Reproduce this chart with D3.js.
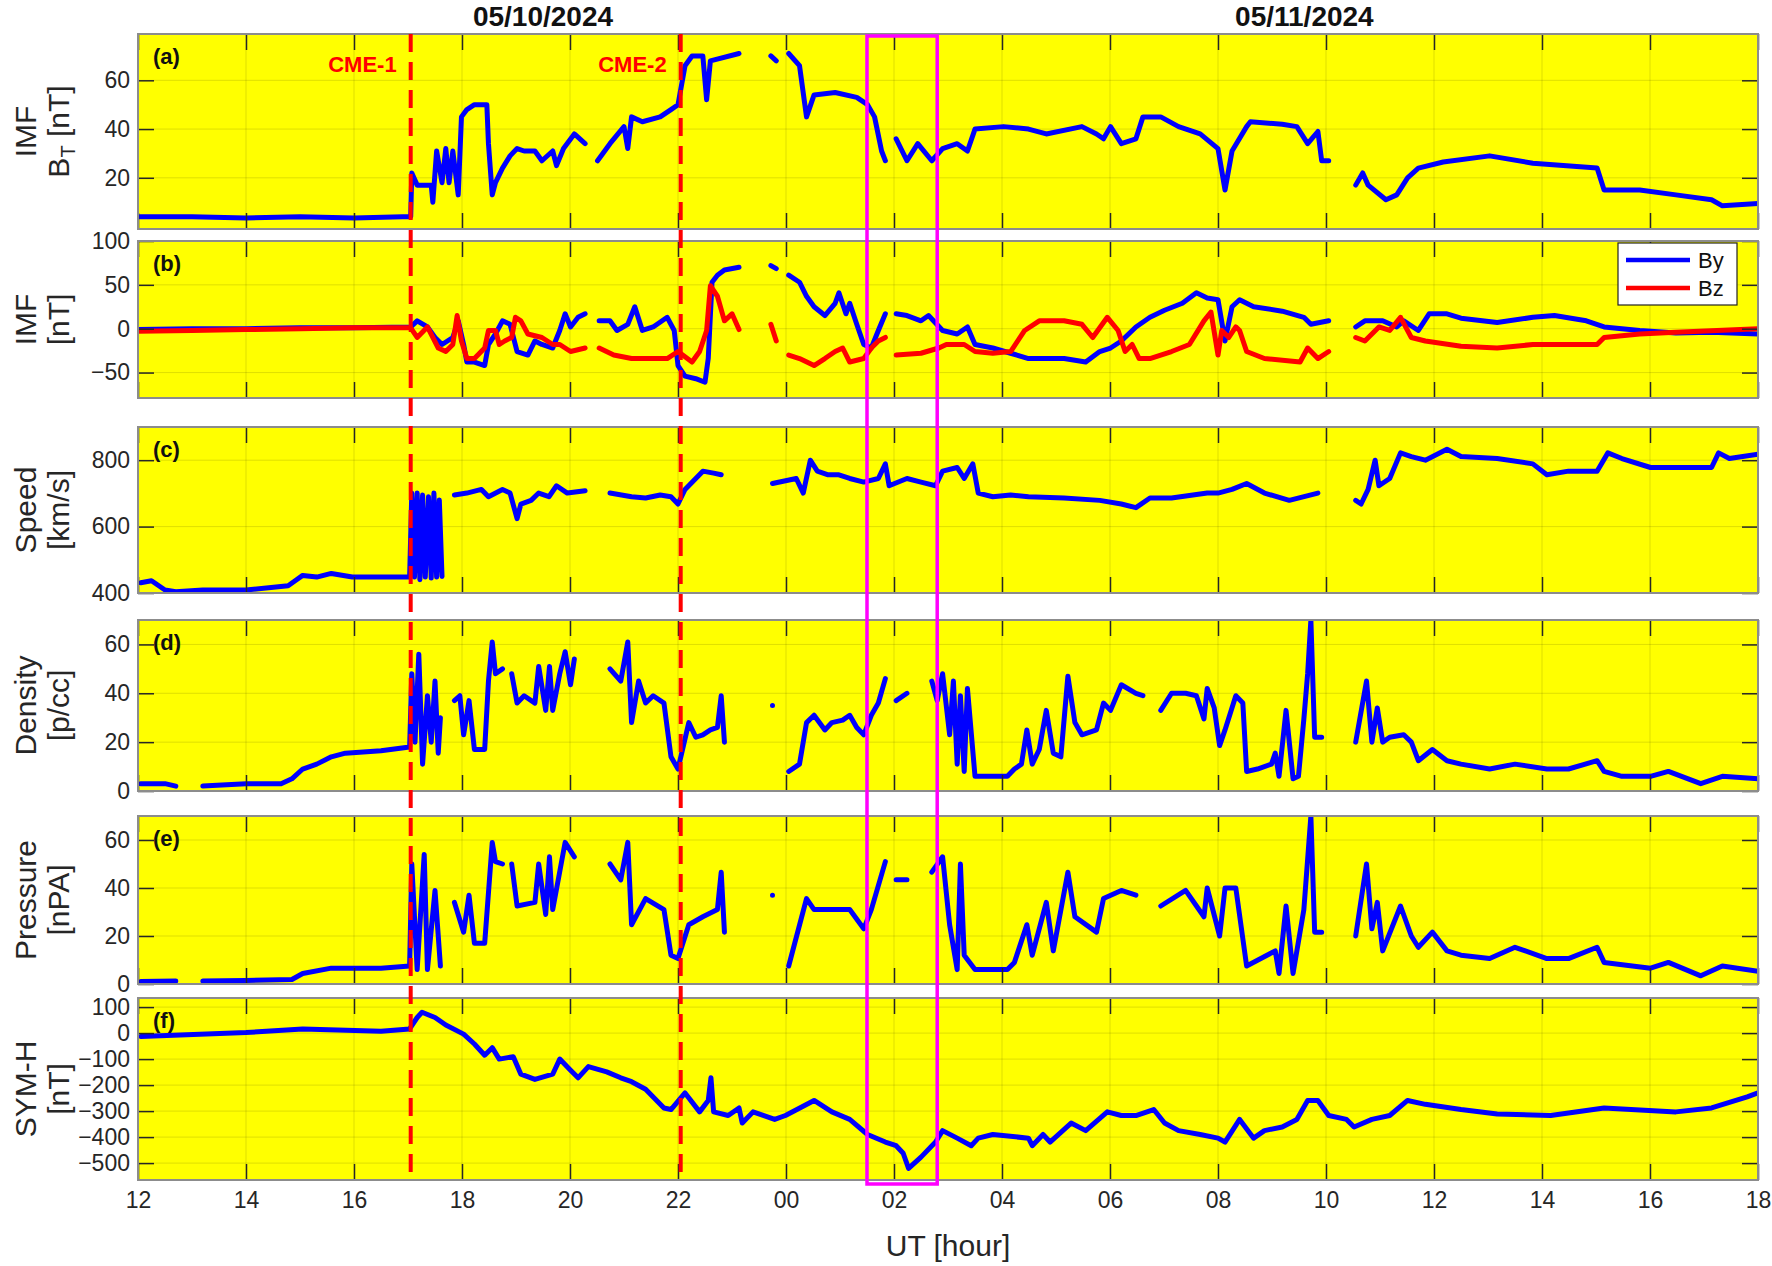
<!DOCTYPE html>
<html>
<head>
<meta charset="utf-8">
<script src="https://cdn.jsdelivr.net/npm/d3@7"></script>
<style>
  body { margin: 0; background: #fff; }
  text { font-family: "Liberation Sans Narrow", "Liberation Sans", Arial, sans-serif; }
</style>
</head>
<body>
<svg id="chart" width="1772" height="1266"></svg>
<script>
// hours counted from 00 UT on 05/10/2024 (12..42), null = data gap
const hourTicks = [12, 14, 16, 18, 20, 22, 24, 26, 28, 30, 32, 34, 36, 38, 40, 42];
const hourLabels = ["12","14","16","18","20","22","00","02","04","06","08","10","12","14","16","18"];
const cmeTimes = [17.05, 22.05];
const cmeLabels = ["CME-1", "CME-2"];
const boxTimes = [25.5, 26.8];

const bt = [[12,4],[13,4],[14,3.5],[15,4],[16,3.5],[16.9,4],[17.05,4],
  [17.07,22],[17.17,17],[17.43,17],[17.46,10],[17.53,31],[17.63,18],[17.7,32],[17.76,18],[17.83,31],[17.93,13],[17.99,45],
  [18.09,48],[18.23,50],[18.46,50],[18.49,34],[18.56,13],[18.62,18],[18.75,24],[18.89,29],[19.02,32],[19.15,31],[19.35,31],
  [19.48,27],[19.68,31],[19.75,25],[19.88,32],[20.08,38],[20.28,34],[20.33,null],[20.51,27],[20.74,34],[21.0,41],[21.07,32],
  [21.14,45],[21.34,43],[21.67,45],[21.87,48],[22.0,50],[22.13,66],[22.26,70],[22.46,70],[22.53,52],[22.6,68],[23.13,71],
  [23.2,null],[23.72,70],[23.82,68],[23.9,null],[24.05,71],[24.25,66],[24.38,45],[24.52,54],[24.91,55],[25.31,53],[25.51,50],
  [25.64,45],[25.77,31],[25.84,27],[25.9,null],[26.04,36],[26.24,27],[26.44,34],[26.7,27],[26.9,32],[27.17,34],[27.36,31],
  [27.5,40],[28.03,41],[28.49,40],[28.82,38],[29.48,41],[29.75,38],[29.88,36],[30.01,41],[30.21,34],[30.48,36],[30.61,45],
  [30.94,45],[31.27,41],[31.67,38],[32.0,32],[32.13,15],[32.26,31],[32.53,41],[32.6,43],[33.19,42],[33.46,41],[33.66,34],
  [33.85,39],[33.92,27],[34.05,27],[34.1,null],[34.55,17],[34.68,22],[34.78,17],[35.11,11],[35.31,13],[35.51,20],[35.71,24],
  [36.17,26.5],[37.03,29],[37.83,26],[39.02,24],[39.15,15],[39.81,15],[40.48,13],[41.14,11],[41.34,8.5],[42.0,9.5]];

const by = [[12,-1],[13,0],[14,0],[15,1],[16,1],[17.05,2],[17.17,9],[17.36,2],[17.5,-10],[17.63,-18],[17.83,-10],[17.93,9],
  [18.03,-18],[18.09,-38],[18.23,-38],[18.42,-42],[18.49,-18],[18.62,-6],[18.75,9],[18.89,5],[19.02,-26],[19.22,-30],
  [19.35,-14],[19.48,-18],[19.68,-22],[19.81,-2],[19.91,17],[20.01,2],[20.15,13],[20.28,17],[20.33,null],[20.54,9],[20.74,9],
  [20.87,-2],[21.07,5],[21.2,25],[21.34,-2],[21.54,2],[21.8,13],[21.93,-2],[22.0,-42],[22.13,-54],[22.33,-57],[22.5,-61],
  [22.56,-34],[22.63,53],[22.73,61],[22.86,67],[23.13,70],[23.2,null],[23.72,72],[23.82,68.5],[23.9,null],[24.05,61],
  [24.25,53],[24.38,37],[24.52,25],[24.72,15],[24.91,29],[24.98,41],[25.11,17],[25.18,29],[25.31,5],[25.44,-18],[25.58,-22],
  [25.71,-2],[25.84,17],[25.9,null],[26.04,17],[26.24,15],[26.5,9],[26.64,15],[26.9,-2],[27.17,-6],[27.36,2],[27.5,-18],
  [27.83,-22],[28.16,-28],[28.49,-34],[29.15,-34],[29.55,-38],[29.81,-26],[30.01,-22],[30.21,-14],[30.48,2],[30.74,13],
  [31.01,21],[31.34,29],[31.6,41],[31.8,35],[32.0,33],[32.13,-14],[32.26,25],[32.4,33],[32.66,25],[33.19,20],[33.59,13],
  [33.72,5],[34.05,9],[34.1,null],[34.55,2],[34.72,9],[35.05,9],[35.31,2],[35.44,9],[35.71,-2],[35.91,17],[36.24,17],
  [36.5,12],[37.17,7],[37.83,13],[38.23,15],[38.82,9],[39.15,2],[39.81,-2],[40.48,-5],[41.14,-4],[42.0,-6]];

const bz = [[12,-3],[13,-2],[14,-1],[15,0],[16,1],[17.05,1],[17.17,-10],[17.36,2],[17.56,-22],[17.7,-26],[17.83,-18],
  [17.91,15],[17.99,-14],[18.09,-34],[18.23,-34],[18.42,-22],[18.49,-2],[18.62,-2],[18.69,-18],[18.79,-14],[18.92,-10],
  [18.99,13],[19.09,9],[19.22,-6],[19.48,-10],[19.68,-18],[19.81,-18],[20.01,-26],[20.28,-22],[20.33,null],[20.54,-22],
  [20.81,-30],[21.14,-34],[21.47,-34],[21.8,-34],[22.0,-26],[22.26,-38],[22.4,-26],[22.53,-2],[22.6,49],[22.73,37],
  [22.86,9],[23.0,17],[23.13,-1],[23.2,null],[23.72,5],[23.82,-14],[23.9,null],[24.05,-30],[24.25,-34],[24.52,-42],
  [24.72,-34],[24.91,-26],[25.05,-22],[25.18,-38],[25.44,-34],[25.58,-22],[25.71,-14],[25.84,-10],[25.9,null],[26.04,-30],
  [26.5,-28],[26.83,-22],[26.97,-18],[27.3,-18],[27.5,-26],[27.83,-28],[28.16,-26],[28.42,-2],[28.69,9],[29.15,9],
  [29.48,5],[29.68,-10],[29.95,13],[30.15,-2],[30.28,-26],[30.41,-18],[30.54,-34],[30.74,-34],[31.14,-26],[31.47,-18],
  [31.74,9],[31.87,19],[32.0,-30],[32.07,-2],[32.2,-10],[32.33,2],[32.4,-2],[32.53,-26],[32.86,-34],[33.52,-38],
  [33.66,-22],[33.85,-34],[34.05,-26],[34.1,null],[34.55,-10],[34.72,-14],[34.98,2],[35.18,-2],[35.38,13],[35.58,-10],
  [35.84,-14],[36.5,-20],[37.17,-22],[37.83,-18],[39.02,-18],[39.15,-10],[39.81,-6],[40.48,-4],[42.0,0]];

const speed = [[12.05,431],[12.25,437],[12.5,409],[12.7,404],[13.2,409],[14.0,409],[14.78,422],[14.91,437],[15.05,453],
  [15.31,448],[15.58,459],[15.97,448],[16.5,448],[17.03,448],[17.07,701],[17.12,448],[17.17,701],[17.22,440],[17.27,695],
  [17.32,448],[17.38,690],[17.43,445],[17.48,701],[17.53,448],[17.58,680],[17.63,450],[17.66,null],[17.86,695],[18.09,701],
  [18.36,712],[18.49,690],[18.75,712],[18.89,701],[19.02,624],[19.09,668],[19.28,679],[19.42,701],[19.61,690],[19.75,723],
  [19.95,701],[20.28,708],[20.33,null],[20.74,701],[21.14,690],[21.4,686],[21.67,695],[21.87,690],[22.0,668],[22.13,712],
  [22.46,767],[22.66,761],[22.8,756],[22.85,null],[23.75,730],[24.19,745],[24.32,701],[24.45,800],[24.58,767],[24.78,756],
  [24.98,756],[25.18,745],[25.44,734],[25.71,745],[25.84,789],[25.91,723],[26.24,745],[26.5,734],[26.77,723],[26.9,767],
  [27.17,778],[27.3,745],[27.46,789],[27.56,701],[27.83,690],[28.16,695],[28.49,690],[29.15,686],[29.81,679],[30.21,668],
  [30.48,657],[30.74,686],[31.14,686],[31.8,701],[32.0,701],[32.26,712],[32.53,730],[32.86,701],[33.32,679],[33.85,701],
  [33.92,null],[34.55,679],[34.65,668],[34.78,712],[34.91,800],[34.98,723],[35.18,745],[35.38,822],[35.58,811],[35.84,800],
  [36.24,833],[36.5,811],[37.17,805],[37.83,789],[38.09,756],[38.49,767],[39.02,767],[39.22,822],[39.48,805],[40.01,778],
  [40.48,778],[41.14,778],[41.27,822],[41.47,805],[42.0,818]];

const density = [[12.05,3],[12.5,3],[12.7,2],[12.75,null],[13.2,2],[14.0,3],[14.65,3],[14.85,5],[15.05,9],[15.31,11],
  [15.58,14],[15.84,15.5],[16.5,16.5],[17.03,18],[17.07,48],[17.13,20],[17.2,56],[17.27,11],[17.36,39],[17.43,20],[17.5,45],
  [17.56,15.5],[17.6,30],[17.65,null],[17.86,37],[17.96,39],[18.03,23],[18.13,37],[18.23,17],[18.42,17],[18.49,45],
  [18.56,61],[18.62,48],[18.75,50],[18.8,null],[18.92,48],[19.02,36],[19.15,39],[19.35,36],[19.42,51],[19.55,33],[19.62,51],
  [19.68,33],[19.81,48],[19.91,57],[20.01,43.5],[20.08,54],[20.15,null],[20.74,50],[20.94,45],[21.07,61],[21.14,28],
  [21.27,45],[21.4,36],[21.54,39],[21.74,36],[21.87,14],[22.0,9],[22.2,28],[22.33,22],[22.46,23],[22.6,25],[22.73,26],
  [22.8,39],[22.86,20],[22.9,null],[23.75,35],[23.8,null],[24.05,8],[24.25,11],[24.38,28],[24.52,31],[24.72,25],[24.85,28],
  [25.05,29],[25.18,31],[25.31,26],[25.44,23],[25.58,31],[25.71,36],[25.84,46],[25.9,null],[26.04,37],[26.24,40],[26.3,null],
  [26.7,45],[26.8,37],[26.9,48],[27.03,23],[27.1,45],[27.17,11],[27.23,39],[27.3,8],[27.36,42],[27.5,6],[27.63,6],[27.83,6],
  [28.1,6],[28.23,9],[28.36,11],[28.46,25],[28.56,11],[28.69,17],[28.82,33],[28.95,15.5],[29.09,14],[29.22,47],[29.35,28],
  [29.48,23],[29.75,25],[29.88,36],[30.01,33],[30.21,43.5],[30.48,40],[30.61,39],[30.7,null],[30.94,33],[31.14,40],
  [31.4,40],[31.6,39],[31.74,29.5],[31.8,42],[31.93,34],[32.03,18.6],[32.13,25],[32.33,39],[32.46,36],[32.53,8],[32.73,9],
  [32.99,11],[33.06,15.5],[33.13,6],[33.26,33],[33.39,5],[33.49,6],[33.59,29.5],[33.66,48],[33.72,70],[33.79,22],[33.92,22],
  [34.0,null],[34.55,20],[34.75,45],[34.85,20],[34.95,34],[35.05,20],[35.18,22],[35.44,23],[35.58,20],[35.71,12.4],
  [35.97,17],[36.24,12.4],[36.5,11],[37.03,9],[37.5,11],[38.09,9],[38.49,9],[39.02,12.4],[39.15,8],[39.48,6],[40.01,6],
  [40.34,8],[40.94,3],[41.34,6],[42.0,5]];

const pressure = [[12.05,1],[12.7,1.2],[12.75,null],[13.2,1.2],[14.0,1.5],[14.85,1.9],[15.05,4.4],[15.58,6.6],[16.5,6.6],
  [17.03,7.5],[17.07,50],[17.17,6],[17.3,54],[17.36,6],[17.5,39],[17.6,7.5],[17.65,null],[17.86,34],[18.03,21.6],[18.13,37],
  [18.23,17],[18.42,17],[18.56,59],[18.62,51],[18.75,50],[18.8,null],[18.92,50],[19.02,32.5],[19.35,34],[19.42,50],
  [19.55,29],[19.62,53],[19.68,31],[19.91,59],[20.08,53],[20.15,null],[20.74,50],[20.94,43.4],[21.07,59],[21.14,24.7],
  [21.4,35.6],[21.74,31],[21.87,12],[22.0,10.6],[22.2,24.7],[22.46,28],[22.73,31],[22.8,46.6],[22.86,21.6],[22.9,null],
  [23.75,37],[23.8,null],[24.05,7.5],[24.38,35.6],[24.52,31],[24.85,31],[25.18,31],[25.44,23],[25.58,31],[25.84,51],
  [25.9,null],[26.04,43.4],[26.24,43.4],[26.3,null],[26.7,46.6],[26.9,53],[27.03,24.7],[27.17,6],[27.23,50],[27.3,12],
  [27.5,6],[27.83,6],[28.1,6],[28.23,9],[28.46,24.7],[28.56,12],[28.82,34],[28.95,13.8],[29.22,46.6],[29.35,28],[29.75,21.6],
  [29.88,35.6],[30.21,39],[30.48,37],[30.7,null],[30.94,32.5],[31.4,39],[31.74,28],[31.8,40],[32.03,20],[32.13,40],
  [32.33,40],[32.53,7.5],[33.06,13.8],[33.13,4.4],[33.26,32.5],[33.39,4.4],[33.59,31],[33.72,70],[33.79,21.6],[33.92,21.6],
  [34.0,null],[34.55,20],[34.75,50],[34.85,23],[34.95,34],[35.05,13.8],[35.38,32.5],[35.58,20],[35.71,15.3],[35.97,21.6],
  [36.24,13.8],[36.5,12],[37.03,10.6],[37.5,15.3],[38.09,10.6],[38.49,10.6],[39.02,15.3],[39.15,9],[40.01,6.6],[40.34,9],
  [40.94,3.4],[41.34,7.5],[42.0,5.3]];

const symh = [[12.05,-13],[14.0,2],[15.05,16],[16.5,7],[17.03,16],[17.17,60],[17.26,80],[17.5,60],[17.7,31],[18.03,-4],
  [18.23,-42],[18.42,-85],[18.56,-56],[18.69,-100],[18.95,-91],[19.09,-158],[19.35,-178],[19.68,-158],[19.81,-100],
  [20.01,-143],[20.15,-172],[20.34,-129],[20.68,-149],[20.94,-172],[21.14,-187],[21.4,-216],[21.74,-288],[21.87,-294],
  [22.13,-230],[22.4,-303],[22.56,-259],[22.61,-172],[22.66,-303],[22.93,-317],[23.13,-288],[23.19,-346],[23.39,-303],
  [23.59,-317],[23.79,-332],[23.99,-317],[24.52,-259],[24.85,-303],[25.18,-332],[25.51,-390],[25.84,-419],[26.04,-433],
  [26.17,-462],[26.27,-520],[26.5,-477],[26.77,-419],[26.9,-375],[27.17,-404],[27.43,-433],[27.56,-404],[27.83,-390],
  [28.49,-404],[28.56,-433],[28.76,-390],[28.89,-419],[29.28,-346],[29.55,-375],[29.95,-303],[30.21,-317],[30.48,-317],
  [30.81,-294],[31.01,-346],[31.27,-375],[31.67,-390],[32.0,-404],[32.13,-419],[32.4,-332],[32.66,-404],[32.86,-375],
  [33.19,-361],[33.46,-332],[33.66,-259],[33.85,-259],[34.05,-317],[34.38,-332],[34.52,-361],[34.85,-332],[35.18,-317],
  [35.51,-259],[35.84,-274],[36.5,-294],[37.17,-311],[38.16,-317],[39.15,-288],[40.48,-303],[41.14,-288],[41.8,-245],
  [42.0,-230]];

const panels = [
  { tag: "(a)", top: 34, bottom: 229, domain: [-1, 79], ticks: [20, 40, 60], label: ["IMF", "B_T"], series: [[bt, "#0000ff"]] },
  { tag: "(b)", top: 241, bottom: 398, domain: [-79, 100], ticks: [-50, 0, 50, 100], label: ["IMF", "[nT]"], series: [[by, "#0000ff"], [bz, "#ff0000"]] },
  { tag: "(c)", top: 427, bottom: 593, domain: [400, 900], ticks: [400, 600, 800], label: ["Speed", "[km/s]"], series: [[speed, "#0000ff"]] },
  { tag: "(d)", top: 620, bottom: 791, domain: [0, 70], ticks: [0, 20, 40, 60], label: ["Density", "[p/cc]"], series: [[density, "#0000ff"]] },
  { tag: "(e)", top: 816, bottom: 984, domain: [0, 70], ticks: [0, 20, 40, 60], label: ["Pressure", "[nPA]"], series: [[pressure, "#0000ff"]] },
  { tag: "(f)", top: 998, bottom: 1180, domain: [-565, 135], ticks: [100, 0, -100, -200, -300, -400, -500], label: ["SYM-H", "[nT]"], series: [[symh, "#0000ff"]] }
];

const svg = d3.select("#chart");
const left = 138, right = 1758;
const x = d3.scaleLinear().domain([12, 42]).range([left, right]);
const FONT = "Liberation Sans Narrow, Liberation Sans, Arial, sans-serif";

panels.forEach((p, i) => {
  const y = d3.scaleLinear().domain(p.domain).range([p.bottom, p.top]);
  const g = svg.append("g");
  g.append("rect").attr("x", left).attr("y", p.top).attr("width", right - left).attr("height", p.bottom - p.top)
    .attr("fill", "#ffff00");

  // grid
  g.selectAll(".gx").data(hourTicks).join("line")
    .attr("x1", d => x(d)).attr("x2", d => x(d)).attr("y1", p.top).attr("y2", p.bottom)
    .attr("stroke", "#000").attr("stroke-opacity", 0.13);
  g.selectAll(".gy").data(p.ticks).join("line")
    .attr("x1", left).attr("x2", right).attr("y1", d => y(d)).attr("y2", d => y(d))
    .attr("stroke", "#000").attr("stroke-opacity", 0.13);

  // data
  const line = d3.line().defined(d => d[1] !== null).x(d => x(d[0])).y(d => y(d[1]));
  const clip = "clip" + i;
  svg.append("clipPath").attr("id", clip).append("rect")
    .attr("x", left).attr("y", p.top).attr("width", right - left).attr("height", p.bottom - p.top);
  p.series.forEach(([data, col]) => {
    g.append("path").datum(data).attr("fill", "none").attr("stroke", col).attr("stroke-width", 5)
      .attr("stroke-linejoin", "round").attr("stroke-linecap", "round")
      .attr("clip-path", `url(#${clip})`).attr("d", line);
  });

  // axes, ticks pointing inward
  const ax = g.append("g");
  const bottomAxis = ax.append("g").attr("transform", `translate(0,${p.bottom})`)
    .call(d3.axisBottom(x).tickValues(hourTicks).tickSizeInner(-16).tickSizeOuter(0)
      .tickFormat(i === panels.length - 1 ? (d, k) => hourLabels[k] : ""));
  ax.append("g").attr("transform", `translate(0,${p.top})`)
    .call(d3.axisTop(x).tickValues(hourTicks).tickSizeInner(-16).tickSizeOuter(0).tickFormat(""));
  ax.append("g").attr("transform", `translate(${left},0)`)
    .call(d3.axisLeft(y).tickValues(p.ticks).tickSizeInner(-16).tickSizeOuter(0).tickPadding(8));
  ax.append("g").attr("transform", `translate(${right},0)`)
    .call(d3.axisRight(y).tickValues(p.ticks).tickSizeInner(-16).tickSizeOuter(0).tickFormat(""));
  ax.selectAll(".domain").remove();
  ax.selectAll(".tick line").attr("stroke", "#262626").attr("stroke-width", 1.5);
  ax.selectAll(".tick text").attr("font-size", 23).attr("fill", "#262626").attr("font-family", FONT);
  bottomAxis.selectAll(".tick text").attr("dy", "1.1em");

  g.append("rect").attr("x", left).attr("y", p.top).attr("width", right - left).attr("height", p.bottom - p.top)
    .attr("fill", "none").attr("stroke", "#8c8c8c").attr("stroke-width", 2);

  g.append("text").attr("x", left + 15).attr("y", p.top + 30).attr("font-size", 22).attr("font-weight", "bold")
    .attr("fill", "#111").text(p.tag);

  // y label
  const cy = (p.top + p.bottom) / 2;
  const lab = svg.append("text").attr("transform", `translate(36,${cy}) rotate(-90)`)
    .attr("text-anchor", "middle").attr("font-size", 30).attr("fill", "#262626");
  lab.append("tspan").attr("x", 0).attr("dy", 0).text(p.label[0]);
  if (p.label[1] === "B_T") {
    lab.append("tspan").attr("x", 0).attr("dy", 33).text("B");
    lab.append("tspan").attr("font-size", 20).attr("dy", 6).text("T");
    lab.append("tspan").attr("dy", -6).text("  [nT]");
  } else {
    lab.append("tspan").attr("x", 0).attr("dy", 33).text(p.label[1]);
  }
});

// CME dashed lines
const topY = panels[0].top, botY = panels[panels.length - 1].bottom;
cmeTimes.forEach((t, k) => {
  svg.append("line").attr("x1", x(t)).attr("x2", x(t)).attr("y1", topY).attr("y2", botY)
    .attr("stroke", "#ff0000").attr("stroke-width", 4).attr("stroke-dasharray", "18,10");
  svg.append("text").attr("x", x(t) - 14).attr("y", topY + 38).attr("text-anchor", "end")
    .attr("font-size", 22).attr("font-weight", "bold").attr("fill", "#ff0000").text(cmeLabels[k]);
});

// magenta box
svg.append("rect").attr("x", x(boxTimes[0])).attr("y", topY + 2).attr("width", x(boxTimes[1]) - x(boxTimes[0]))
  .attr("height", botY - topY + 2).attr("fill", "none").attr("stroke", "#ff00ff").attr("stroke-width", 3.5);

// dates
svg.append("text").attr("x", x(19.5)).attr("y", 26).attr("text-anchor", "middle").attr("font-size", 28)
  .attr("font-weight", "bold").attr("fill", "#111").text("05/10/2024");
svg.append("text").attr("x", x(33.6)).attr("y", 26).attr("text-anchor", "middle").attr("font-size", 28)
  .attr("font-weight", "bold").attr("fill", "#111").text("05/11/2024");

// x label
svg.append("text").attr("x", (left + right) / 2).attr("y", 1256).attr("text-anchor", "middle")
  .attr("font-size", 30).attr("fill", "#262626").text("UT [hour]");

// legend in panel b
const lg = svg.append("g").attr("transform", `translate(1618,243)`);
lg.append("rect").attr("width", 119).attr("height", 62).attr("fill", "#fff").attr("stroke", "#222").attr("stroke-width", 1.2);
[["By", "#0000ff"], ["Bz", "#ff0000"]].forEach(([n, c], k) => {
  lg.append("line").attr("x1", 8).attr("x2", 72).attr("y1", 17 + k * 28).attr("y2", 17 + k * 28)
    .attr("stroke", c).attr("stroke-width", 4.5);
  lg.append("text").attr("x", 80).attr("y", 25 + k * 28).attr("font-size", 22).attr("fill", "#111").text(n);
});
</script>
</body>
</html>
